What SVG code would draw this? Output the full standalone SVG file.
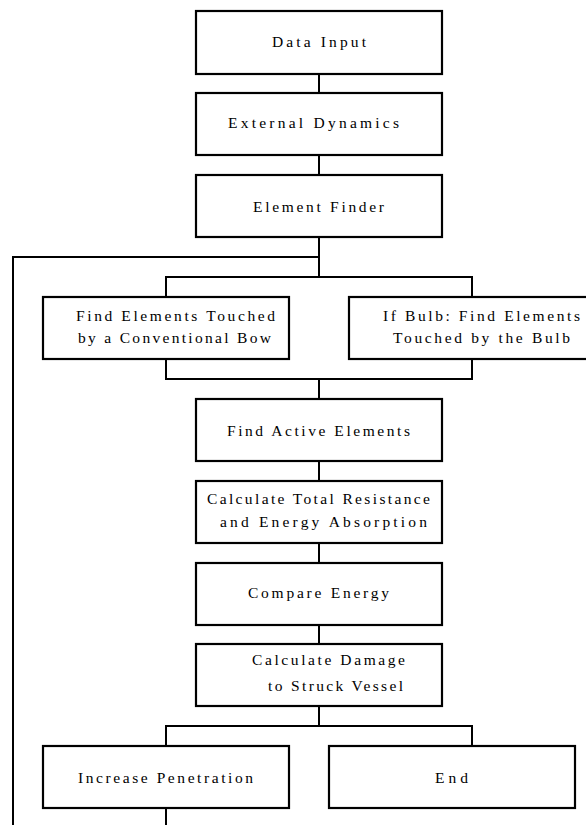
<svg xmlns="http://www.w3.org/2000/svg" width="586" height="825" viewBox="0 0 586 825">
<style>
.box{fill:#fff;stroke:#000;stroke-width:2.2}
.ln{fill:none;stroke:#000;stroke-width:2}
text{font-family:"Liberation Serif","DejaVu Serif",serif;font-size:15.5px;fill:#000}
</style>
<rect width="586" height="825" fill="#fff"/>
<g id="connectors">
<path class="ln" d="M319 74V93M319 155V175M319 237V277M319 257H13V825"/>
<path class="ln" d="M166 297V277H472V297"/>
<path class="ln" d="M166 359V379H472V359M319 379V399"/>
<path class="ln" d="M319 461V481M319 543V563M319 625V644M319 706V726"/>
<path class="ln" d="M166 746V726H472V746"/>
<path class="ln" d="M166 808V825"/>
</g>
<g id="n1"><rect class="box" x="196" y="11" width="246" height="63"/><text x="272" y="47" textLength="94" lengthAdjust="spacing">Data Input</text></g>
<g id="n2"><rect class="box" x="196" y="93" width="246" height="62"/><text x="228" y="128" textLength="171" lengthAdjust="spacing">External Dynamics</text></g>
<g id="n3"><rect class="box" x="196" y="175" width="246" height="62"/><text x="253" y="212" textLength="131" lengthAdjust="spacing">Element Finder</text></g>
<g id="n4"><rect class="box" x="43" y="297" width="246" height="62"/><text x="76" y="321" textLength="199" lengthAdjust="spacing">Find Elements Touched</text><text x="78" y="343" textLength="193" lengthAdjust="spacing">by a Conventional Bow</text></g>
<g id="n5"><rect class="box" x="349" y="297" width="246" height="62"/><text x="383" y="321" textLength="197" lengthAdjust="spacing">If Bulb: Find Elements</text><text x="393" y="343" textLength="177" lengthAdjust="spacing">Touched by the Bulb</text></g>
<g id="n6"><rect class="box" x="196" y="399" width="246" height="62"/><text x="227" y="436" textLength="183" lengthAdjust="spacing">Find Active Elements</text></g>
<g id="n7"><rect class="box" x="196" y="481" width="246" height="62"/><text x="207" y="504" textLength="223" lengthAdjust="spacing">Calculate Total Resistance</text><text x="220" y="527" textLength="207" lengthAdjust="spacing">and Energy Absorption</text></g>
<g id="n8"><rect class="box" x="196" y="563" width="246" height="62"/><text x="248" y="598" textLength="141" lengthAdjust="spacing">Compare Energy</text></g>
<g id="n9"><rect class="box" x="196" y="644" width="246" height="62"/><text x="252" y="665" textLength="153" lengthAdjust="spacing">Calculate Damage</text><text x="268" y="691" textLength="135" lengthAdjust="spacing">to Struck Vessel</text></g>
<g id="n10"><rect class="box" x="43" y="746" width="246" height="62"/><text x="78" y="783" textLength="175" lengthAdjust="spacing">Increase Penetration</text></g>
<g id="n11"><rect class="box" x="329" y="746" width="246" height="62"/><text x="435" y="783" textLength="33" lengthAdjust="spacing">End</text></g>
</svg>
